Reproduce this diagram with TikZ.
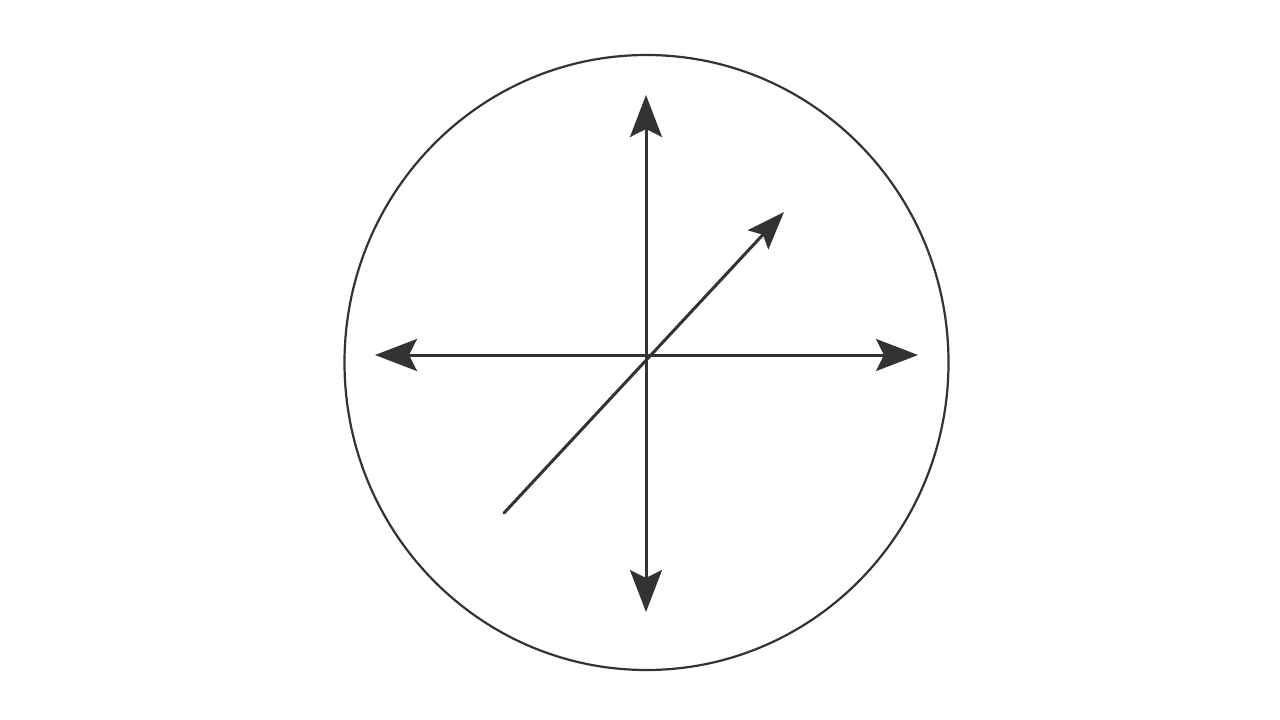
\documentclass[tikz,border=0pt]{standalone}
\usetikzlibrary{arrows.meta,shapes.geometric}
\definecolor{ink}{HTML}{333333}
\begin{document}
\begin{tikzpicture}[x=1pt,y=-1pt,
  axis/.style={draw=ink, line width=3pt, {Stealth[length=42pt,width=32pt,inset=8pt]}-{Stealth[length=42pt,width=32pt,inset=8pt]}},
  diag/.style={draw=ink, line width=3pt, line cap=round, -{Stealth[length=38pt,width=28pt,inset=7pt]}}]
\fill[white] (0,0) rectangle (1280,720);
\useasboundingbox (0,0) rectangle (1280,720);
\node[draw=ink, line width=2.2pt, ellipse, minimum width=604pt, minimum height=615pt, inner sep=0pt] (circ) at (646.5,362.5) {};
\coordinate (top) at (646,95);
\coordinate (bot) at (646,612);
\coordinate (lft) at (375,355);
\coordinate (rgt) at (918,355);
\coordinate (ds) at (504,513);
\coordinate (de) at (784,212);
\draw[axis] (bot) -- (top);
\draw[axis] (lft) -- (rgt);
\draw[diag] (ds) -- (de);
\end{tikzpicture}
\end{document}
